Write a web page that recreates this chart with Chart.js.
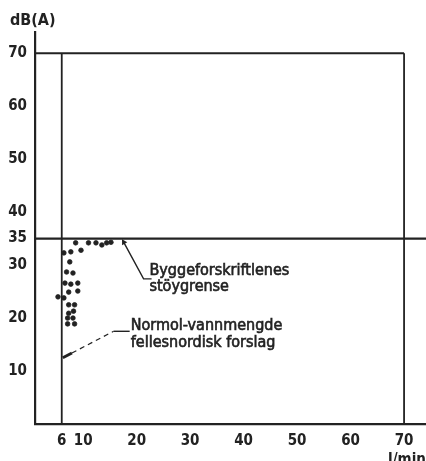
<!DOCTYPE html>
<html>
<head>
<meta charset="utf-8">
<script src="https://cdn.jsdelivr.net/npm/chart.js@4/dist/chart.umd.min.js"></script>
<style>
html,body{margin:0;padding:0;background:#fff;}
#wrap{width:426px;height:461px;}
</style>
</head>
<body>
<div id="wrap"><canvas id="c" width="426" height="461"></canvas></div>
<script>
// ---- data ----
const xTickValues = [6, 10, 20, 30, 40, 50, 60, 70];
const yTickValues = [10, 20, 30, 35, 40, 50, 60, 70];
const flowValues = [8.6, 11.0, 12.4, 13.5, 14.4, 15.2, 6.4, 7.7, 9.6, 7.5, 6.9, 8.1, 6.6, 7.7, 9.0, 7.3, 9.0, 5.3, 6.4, 7.3, 8.4, 7.3, 8.2, 7.1, 8.1, 7.1, 8.4];
const noiseValues = [34.2, 34.2, 34.2, 33.8, 34.2, 34.3, 32.3, 32.5, 32.8, 30.6, 28.7, 28.5, 26.6, 26.4, 26.6, 24.9, 25.1, 24.0, 23.8, 22.5, 22.5, 20.9, 21.3, 20.0, 20.0, 18.9, 18.9];
const noiseLimit = 35;
const frameTop = 70;
const normalFlow = 6;
const frameRight = 70;
const xRange = [1, 74.1];
const yRange = [0, 74];
const yAxisTitle = 'dB(A)';
const xAxisTitle = 'l/min';
const limitLabel = ['Byggeforskriftlenes', 'stöygrense'];
const limitLeaderX = [17.6, 21.3, 22.8];
const limitLeaderY = [34.3, 27.4, 27.4];
const normalLabel = ['Normol-vannmengde', 'fellesnordisk forslag'];
const normalLeaderX = [6.2, 7.9, 15.7, 18.7];
const normalLeaderY = [12.5, 13.4, 17.5, 17.5];
const limitLabelPos = [22.4, 28.2];
const normalLabelPos = [18.9, 17.8];

const INK = '#222';
const FONT = '"Liberation Sans Narrow", "DejaVu Sans Condensed", "Liberation Sans", sans-serif';

const pts = flowValues.map((x, i) => ({x, y: noiseValues[i]}));
const line = (xs, ys) => xs.map((x, i) => ({x, y: ys[i]}));
const lineDs = (data, width, extra) => Object.assign({
  data, showLine: true, borderColor: INK, borderWidth: width, pointRadius: 0,
  pointHoverRadius: 0, fill: false, tension: 0
}, extra || {});

const textPlugin = {
  id: 'texts',
  afterDraw(chart) {
    const {ctx, scales: {x, y}, chartArea} = chart;
    ctx.save();
    ctx.fillStyle = INK;
    ctx.strokeStyle = INK;
    ctx.textBaseline = 'alphabetic';
    ctx.textAlign = 'left';
    ctx.font = 'bold 16px ' + FONT;
    ctx.fillText(yAxisTitle, chartArea.left - 25, chartArea.top - 7);
    ctx.font = 'bold 15px ' + FONT;
    ctx.fillText(xAxisTitle, x.getPixelForValue(frameRight) - 16, chartArea.bottom + 40);
    ctx.font = '16px ' + FONT;
    ctx.lineWidth = 0.6;
    const put = (t, px, py) => { ctx.fillText(t, px, py); ctx.strokeText(t, px, py); };
    const lx = x.getPixelForValue(limitLabelPos[0]);
    const ly = y.getPixelForValue(limitLabelPos[1]);
    put(limitLabel[0], lx, ly);
    put(limitLabel[1], lx, ly + 16);
    const nx = x.getPixelForValue(normalLabelPos[0]);
    const ny = y.getPixelForValue(normalLabelPos[1]);
    put(normalLabel[0], nx, ny);
    put(normalLabel[1], nx, ny + 17);
    ctx.restore();
  }
};

new Chart(document.getElementById('c'), {
  type: 'scatter',
  data: {
    datasets: [
      {data: pts, pointRadius: 2.3, pointBackgroundColor: INK, pointBorderColor: INK, pointBorderWidth: 0.8, showLine: false},
      lineDs(line([xRange[0], frameRight], [frameTop, frameTop]), 2),
      lineDs(line([frameRight, frameRight], [frameTop, yRange[0]]), 1.8),
      lineDs(line([normalFlow, normalFlow], [frameTop, yRange[0]]), 1.8),
      lineDs(line([xRange[0], xRange[1]], [noiseLimit, noiseLimit]), 2.4),
      lineDs(line(limitLeaderX, limitLeaderY), 1.4),
      lineDs([{x: limitLeaderX[0], y: limitLeaderY[0]}], 0, {pointRadius: 3.5, pointStyle: 'triangle', pointBackgroundColor: INK, pointBorderColor: INK, rotation: -31}),
      lineDs(line(normalLeaderX.slice(0, 2), normalLeaderY.slice(0, 2)), 3),
      lineDs(line(normalLeaderX.slice(1, 3), normalLeaderY.slice(1, 3)), 1.2, {borderDash: [5, 4]}),
      lineDs(line(normalLeaderX.slice(2, 4), normalLeaderY.slice(2, 4)), 1.4)
    ]
  },
  options: {
    responsive: false,
    animation: false,
    events: [],
    layout: {autoPadding: false, padding: {top: 32, right: 0, left: 0, bottom: 0}},
    plugins: {legend: {display: false}, tooltip: {enabled: false}},
    scales: {
      x: {
        type: 'linear', min: xRange[0], max: xRange[1],
        afterBuildTicks: s => { s.ticks = xTickValues.map(v => ({value: v})); },
        afterFit: s => { s.height = 37; s.paddingRight = 0; s.paddingLeft = 0; },
        grid: {display: true, drawOnChartArea: false, drawTicks: false, color: 'rgba(0,0,0,0)'},
        border: {display: true, color: INK, width: 2.2},
        ticks: {color: INK, padding: 8, maxRotation: 0, autoSkip: false, font: {family: FONT, size: 15, weight: 'bold'}}
      },
      y: {
        type: 'linear', min: yRange[0], max: yRange[1],
        afterBuildTicks: s => { s.ticks = yTickValues.map(v => ({value: v})); },
        afterFit: s => { s.width = 35; s.paddingTop = 0; s.paddingBottom = 0; },
        grid: {display: true, drawOnChartArea: false, drawTicks: false, color: 'rgba(0,0,0,0)'},
        border: {display: true, color: INK, width: 2.2},
        ticks: {color: INK, padding: 8, autoSkip: false, font: {family: FONT, size: 15, weight: 'bold'}}
      }
    }
  },
  plugins: [textPlugin]
});
</script>
</body>
</html>
